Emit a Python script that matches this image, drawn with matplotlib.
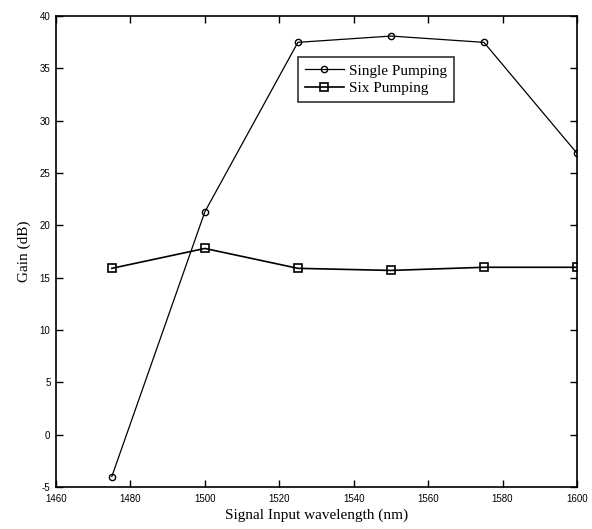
import matplotlib
matplotlib.use("Agg")
import matplotlib.pyplot as plt

plt.rcParams["axes.unicode_minus"] = False

# wavelength (nm) and gain (dB)
wavelength = [1475, 1500, 1525, 1550, 1575, 1600]
single_pumping = [-4.0, 21.3, 37.5, 38.1, 37.5, 26.9]
six_pumping = [15.9, 17.8, 15.9, 15.7, 16.0, 16.0]

fig = plt.figure(figsize=(5.92, 5.29), dpi=100)
ax = fig.add_axes([0.0946, 0.0794, 0.880, 0.890])

ax.plot(wavelength, single_pumping, color="black", linewidth=0.9,
        marker="o", markersize=4.5, markerfacecolor="none", markeredgewidth=1.0,
        label="Single Pumping")
ax.plot(wavelength, six_pumping, color="black", linewidth=1.2,
        marker="s", markersize=5.5, markerfacecolor="none", markeredgewidth=1.2,
        label="Six Pumping")

ax.set_xlim(1460, 1600)
ax.set_ylim(-5, 40)
ax.set_xticks(range(1460, 1601, 20))
ax.set_yticks(range(-5, 41, 5))
ax.tick_params(direction="in", top=True, right=True, length=5, width=1,
               labelsize=7)
ax.tick_params(axis="x", pad=5)
ax.tick_params(axis="y", pad=4)
for lbl in ax.get_xticklabels() + ax.get_yticklabels():
    lbl.set_family("Liberation Sans")
for s in ax.spines.values():
    s.set_linewidth(1.2)

ax.set_xlabel("Signal Input wavelength (nm)", family="Liberation Serif",
              fontsize=11, labelpad=3)
ax.set_ylabel("Gain (dB)", family="Liberation Serif", fontsize=11, labelpad=6)

leg = ax.legend(loc="upper left", bbox_to_anchor=(0.464, 0.913),
                prop={"family": "Liberation Serif", "size": 11},
                frameon=True, fancybox=False, edgecolor="black",
                borderpad=0.45, labelspacing=0.25, handlelength=2.6,
                handletextpad=0.3, borderaxespad=0)
leg.get_frame().set_linewidth(1.2)

fig.savefig("out.png", dpi=100)
